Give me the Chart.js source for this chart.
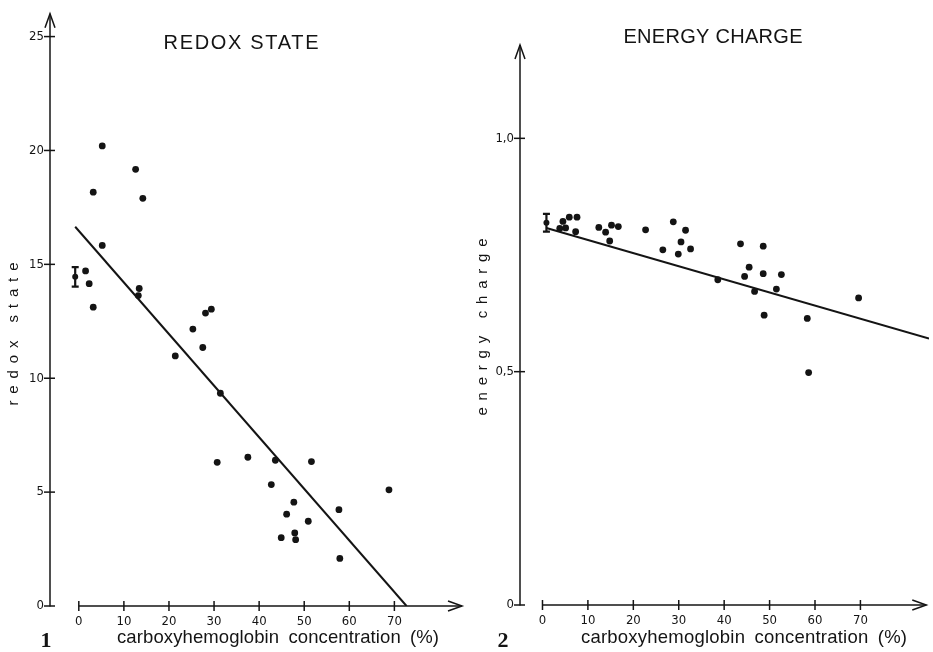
<!DOCTYPE html>
<html><head><meta charset="utf-8">
<script src="https://cdn.jsdelivr.net/npm/chart.js@4.4.1/dist/chart.umd.min.js"></script>
<style>
html,body{margin:0;padding:0;background:#fff;overflow:hidden;width:933px;height:652px}
canvas{position:absolute;top:0}
#c1{left:0}
#c2{left:466px}
</style></head><body>
<canvas id="c1" width="466" height="652"></canvas>
<canvas id="c2" width="467" height="652"></canvas>
<script>
// ---------- data ----------
const redoxCO    = [5.2,12.6,3.2,14.2,5.2,1.5,2.3,3.2,13.4,13.2,25.3,28.1,29.4,27.5,21.4,31.4,30.7,37.5,43.6,51.6,42.7,68.8,47.7,57.7,46.1,50.9,47.9,44.9,48.1,57.9];
const redoxState = [20.2,19.17,18.17,17.9,15.83,14.71,14.15,13.12,13.94,13.63,12.16,12.86,13.03,11.35,10.98,9.34,6.31,6.53,6.40,6.34,5.33,5.10,4.56,4.23,4.03,3.72,3.21,3.00,2.91,2.09];
const redoxMeanCO  = [-0.8];
const redoxMean    = [14.45];
const redoxMeanErr = [0.43];
const redoxFitCO   = [-0.8, 72.7];
const redoxFit     = [16.65, 0];

const energyCO     = [3.8,4.5,5.1,5.9,7.6,7.3,12.4,13.9,15.2,16.7,14.8,22.7,28.8,31.5,30.5,26.5,29.9,32.6,38.6,43.6,48.6,45.5,44.5,48.6,52.6,46.7,51.5,48.8,58.3,69.6,58.6];
const energyCharge = [0.807,0.822,0.808,0.831,0.831,0.800,0.809,0.799,0.814,0.811,0.780,0.804,0.821,0.803,0.778,0.761,0.752,0.763,0.697,0.774,0.769,0.724,0.704,0.710,0.708,0.672,0.677,0.621,0.614,0.658,0.498];
const energyMeanCO  = [0.87];
const energyMean    = [0.819];
const energyMeanErr = [0.019];
const energyFitCO   = [0.87, 85.1];
const energyFit     = [0.808, 0.571];

const xTickValues = [0,10,20,30,40,50,60,70];
const xTickLabels = ['0','10','20','30','40','50','60','70'];
const redoxTickValues  = [0,5,10,15,20,25];
const redoxTickLabels  = ['0','5','10','15','20','25'];
const energyTickValues = [0,0.5,1.0];
const energyTickLabels = ['0','0,5','1,0'];

const titleRedox  = 'REDOX STATE';
const titleEnergy = 'ENERGY CHARGE';
const yTitleRedox  = 'redox state';
const yTitleEnergy = 'energy charge';
const xTitle = 'carboxyhemoglobin concentration (%)';
const figNo1 = '1', figNo2 = '2';

// ---------- drawing ----------
const INK = '#141414';
const pts = (xs, ys) => xs.map((x, i) => ({x, y: ys[i]}));

function spacedText(ctx, text, cx, by, width, font, rot, wordSp) {
  ctx.save();
  ctx.translate(cx, by);
  if (rot) ctx.rotate(rot);
  ctx.font = font;
  ctx.letterSpacing = '0px';
  ctx.wordSpacing = (wordSp || 0) + 'px';
  const w0 = ctx.measureText(text).width;
  const n = [...text].length;
  const ls = (width - w0) / (n - 1);
  ctx.letterSpacing = ls + 'px';
  ctx.textAlign = 'left';
  ctx.textBaseline = 'alphabetic';
  ctx.fillStyle = INK;
  ctx.fillText(text, -width / 2, 0);
  ctx.restore();
}

const sketchPlugin = {
  id: 'sketch',
  afterDraw(chart, args, o) {
    const ctx = chart.ctx, x = chart.scales.x, y = chart.scales.y;
    ctx.save();
    ctx.strokeStyle = INK; ctx.fillStyle = INK; ctx.lineWidth = 1.5;
    const ax = x.left;
    const y0 = y.getPixelForValue(0), yTop = y.top;
    // y axis with arrow
    ctx.beginPath(); ctx.moveTo(ax, y0 + 0.5); ctx.lineTo(ax, yTop); ctx.stroke();
    ctx.beginPath(); ctx.moveTo(ax - 5, yTop + 14); ctx.lineTo(ax, yTop); ctx.lineTo(ax + 5, yTop + 14); ctx.stroke();
    o.yTicks.forEach(v => { const p = y.getPixelForValue(v); ctx.beginPath(); ctx.moveTo(ax - 6, p); ctx.lineTo(ax + 5, p); ctx.stroke(); });
    // x axis with arrow
    const xs = x.getPixelForValue(o.xTicks[0]), xe = x.getPixelForValue(o.xArrow);
    ctx.beginPath(); ctx.moveTo(xs, y0); ctx.lineTo(xe, y0); ctx.stroke();
    ctx.beginPath(); ctx.moveTo(xe - 14, y0 - 5); ctx.lineTo(xe, y0); ctx.lineTo(xe - 14, y0 + 5); ctx.stroke();
    o.xTicks.forEach(v => { const p = x.getPixelForValue(v); ctx.beginPath(); ctx.moveTo(p, y0 - 5); ctx.lineTo(p, y0 + 5); ctx.stroke(); });
    // error bar of the control mean
    ctx.lineWidth = 2.2;
    o.errX.forEach((ex, i) => {
      const px = x.getPixelForValue(ex);
      const lo = y.getPixelForValue(o.errY[i] - o.errE[i]);
      const hi = y.getPixelForValue(o.errY[i] + o.errE[i]);
      ctx.beginPath();
      ctx.moveTo(px, lo); ctx.lineTo(px, hi);
      ctx.moveTo(px - 3.5, lo); ctx.lineTo(px + 3.5, lo);
      ctx.moveTo(px - 3.5, hi); ctx.lineTo(px + 3.5, hi);
      ctx.stroke();
    });
    ctx.restore();
    // texts
    const off = o.offsetX;
    const t = o.texts;
    spacedText(ctx, t.title, t.titleX - off, t.titleY, t.titleW, '20px "Liberation Sans", Arial, sans-serif');
    spacedText(ctx, t.yTitle, t.yTitleX - off, t.yTitleY, t.yTitleW, '15px "Liberation Sans", Arial, sans-serif', -Math.PI / 2);
    spacedText(ctx, t.xTitle, t.xTitleX - off, t.xTitleY, t.xTitleW, '18.5px "Liberation Sans", Arial, sans-serif', 0, 4);
    ctx.save();
    ctx.font = 'bold 22px "Liberation Serif", "DejaVu Serif", serif';
    ctx.fillStyle = INK; ctx.textAlign = 'center'; ctx.textBaseline = 'alphabetic';
    ctx.fillText(t.fig, t.figX - off, t.figY);
    ctx.restore();
  }
};

const tickFont = {family: '"Liberation Sans Narrow", "DejaVu Sans Condensed", "Liberation Sans", sans-serif', size: 13};

function makeChart(id, cfg) {
  return new Chart(document.getElementById(id), {
    type: 'scatter',
    data: {
      datasets: [
        {data: pts(cfg.xs, cfg.ys), pointRadius: 3.4, pointHoverRadius: 3.4, backgroundColor: INK, borderColor: INK, borderWidth: 0},
        {data: pts(cfg.mx, cfg.my), pointRadius: 3, backgroundColor: INK, borderColor: INK, borderWidth: 0},
        {data: pts(cfg.fx, cfg.fy), showLine: true, pointRadius: 0, borderColor: INK, borderWidth: 2, fill: false}
      ]
    },
    options: {
      responsive: false, animation: false, devicePixelRatio: 1,
      layout: {padding: {top: cfg.padTop, right: cfg.padRight, left: 0, bottom: 0}},
      plugins: {
        legend: {display: false}, tooltip: {enabled: false}, title: {display: false},
        sketch: {
          xTicks: xTickValues, yTicks: cfg.yTickValues, xArrow: cfg.xArrow,
          errX: cfg.mx, errY: cfg.my, errE: cfg.me,
          offsetX: cfg.offsetX, texts: cfg.texts
        }
      },
      scales: {
        x: {
          type: 'linear', min: cfg.xMin, max: cfg.xMax,
          grid: {display: false, drawTicks: false}, border: {display: false},
          ticks: {font: tickFont, color: INK, padding: 8, autoSkip: false, maxRotation: 0,
                  callback: (v, i) => xTickLabels[i]},
          afterBuildTicks: s => { s.ticks = xTickValues.map(v => ({value: v})); },
          afterFit: s => { s.height = cfg.xAxisH; }
        },
        y: {
          type: 'linear', min: 0, max: cfg.yMax,
          grid: {display: false, drawTicks: false}, border: {display: false},
          ticks: {font: tickFont, color: INK, padding: cfg.yLabelPad, autoSkip: false,
                  callback: (v, i) => cfg.yTickLabels[i]},
          afterBuildTicks: s => { s.ticks = cfg.yTickValues.map(v => ({value: v})); },
          afterFit: s => { s.width = cfg.yAxisW; }
        }
      }
    },
    plugins: [sketchPlugin]
  });
}

makeChart('c1', {
  xs: redoxCO, ys: redoxState, mx: redoxMeanCO, my: redoxMean, me: redoxMeanErr,
  fx: redoxFitCO, fy: redoxFit,
  yTickValues: redoxTickValues, yTickLabels: redoxTickLabels,
  xMin: -6.39, xMax: 85.0, yMax: 26, xArrow: 85.0,
  padTop: 7.5, padRight: 1, xAxisH: 46, yAxisW: 50, yLabelPad: 6, offsetX: 0,
  texts: {title: titleRedox, titleX: 241, titleY: 48.5, titleW: 155,
          yTitle: yTitleRedox, yTitleX: 18, yTitleY: 334, yTitleW: 143,
          xTitle: xTitle, xTitleX: 278, xTitleY: 643, xTitleW: 322,
          fig: figNo1, figX: 46, figY: 647}
});

makeChart('c2', {
  xs: energyCO, ys: energyCharge, mx: energyMeanCO, my: energyMean, me: energyMeanErr,
  fx: energyFitCO, fy: energyFit,
  yTickValues: energyTickValues, yTickLabels: energyTickLabels,
  xMin: -4.95, xMax: 85.1, yMax: 1.2, xArrow: 84.5,
  padTop: 45, padRight: 0, xAxisH: 47, yAxisW: 54, yLabelPad: 6, offsetX: 466,
  texts: {title: titleEnergy, titleX: 713, titleY: 42.5, titleW: 179,
          yTitle: yTitleEnergy, yTitleX: 487, yTitleY: 327, yTitleW: 177,
          xTitle: xTitle, xTitleX: 744, xTitleY: 643, xTitleW: 326,
          fig: figNo2, figX: 503, figY: 647}
});
</script>
</body></html>
